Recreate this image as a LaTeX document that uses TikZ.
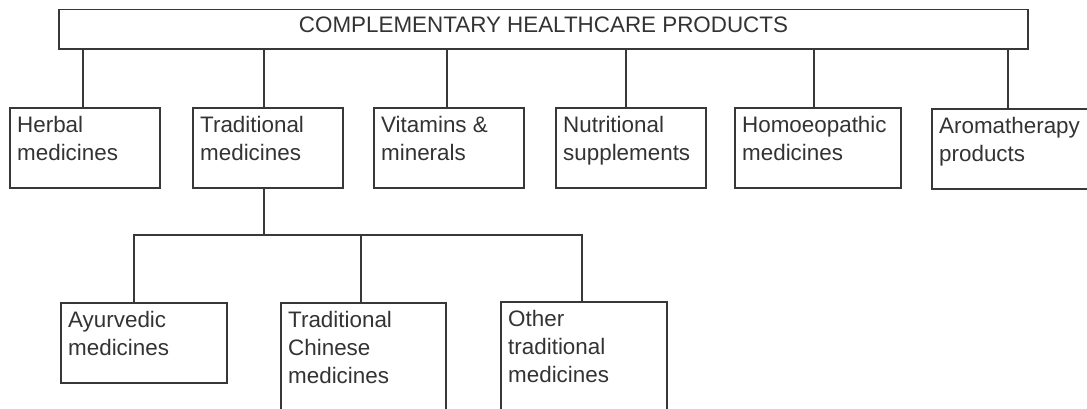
\documentclass[tikz,border=0pt]{standalone}
\usepackage{fontspec}
\setmainfont{Liberation Sans}
\begin{document}
\begin{tikzpicture}[x=1pt,y=-1pt,
  frame/.style={draw=black!78, line width=1.3pt, rectangle, inner sep=0pt, outer sep=0pt,
    anchor=north west, minimum height=80pt},
  lbl/.style={anchor=north west, inner sep=0pt, align=left, text=black!80,
    font=\fontsize{22.4}{28}\selectfont},
  link/.style={draw=black!78, line width=1.3pt}
]
\useasboundingbox (0,0) rectangle (1087,408);
\clip (0,0) rectangle (1087,408);

% root
\node[frame, minimum width=969pt, minimum height=39.5pt] (root) at (59,9.5) {};
\node[lbl, anchor=north] (root-t) at ([yshift=-7.5pt]root.north) {COMPLEMENTARY HEALTHCARE PRODUCTS};

% first level
\node[frame, minimum width=150pt] (herbal) at (10,108) {};
\node[frame, minimum width=150pt] (trad)   at (193,108) {};
\node[frame, minimum width=150pt] (vit)    at (374,108) {};
\node[frame, minimum width=150pt] (nutri)  at (556,108) {};
\node[frame, minimum width=166pt] (homoeo) at (735,108) {};
\node[frame, minimum width=170pt] (aroma)  at (932,109) {};

\node[lbl] (herbal-t) at ([xshift=7pt,yshift=-8pt]herbal.north west) {Herbal\\medicines};
\node[lbl] (trad-t)   at ([xshift=7pt,yshift=-8pt]trad.north west) {Traditional\\medicines};
\node[lbl] (vit-t)    at ([xshift=7pt,yshift=-8pt]vit.north west) {Vitamins \&\\minerals};
\node[lbl] (nutri-t)  at ([xshift=7pt,yshift=-8pt]nutri.north west) {Nutritional\\supplements};
\node[lbl] (homoeo-t) at ([xshift=7pt,yshift=-8pt]homoeo.north west) {Homoeopathic\\medicines};
\node[lbl] (aroma-t)  at ([xshift=7pt,yshift=-8pt]aroma.north west) {Aromatherapy\\products};

% second level
\node[frame, minimum width=166pt] (ayur)    at (61,303) {};
\node[frame, minimum width=165pt, minimum height=130pt] (chinese) at (281,303) {};
\node[frame, minimum width=166pt, minimum height=130pt] (other)   at (501,302) {};

\node[lbl] (ayur-t)    at ([xshift=7pt,yshift=-8pt]ayur.north west) {Ayurvedic\\medicines};
\node[lbl] (chinese-t) at ([xshift=7pt,yshift=-8pt]chinese.north west) {Traditional\\Chinese\\medicines};
\node[lbl] (other-t)   at ([xshift=7pt,yshift=-8pt]other.north west) {Other\\traditional\\medicines};

% root to first level
\draw[link] ([xshift=-2pt]herbal.north) -- ([xshift=-2pt]herbal.north |- root.south);
\draw[link] ([xshift=-4pt]trad.north)   -- ([xshift=-4pt]trad.north |- root.south);
\draw[link] ([xshift=-2pt]vit.north)    -- ([xshift=-2pt]vit.north |- root.south);
\draw[link] ([xshift=-5pt]nutri.north)  -- ([xshift=-5pt]nutri.north |- root.south);
\draw[link] ([xshift=-4pt]homoeo.north) -- ([xshift=-4pt]homoeo.north |- root.south);
\draw[link] ([xshift=-9pt]aroma.north)  -- ([xshift=-9pt]aroma.north |- root.south);

% traditional medicines to second level
\coordinate (bar) at (0,235);
\draw[link] ([xshift=-4pt]trad.south) -- ([xshift=-4pt]trad.south |- bar);
\draw[link] ([xshift=-10pt]ayur.north) |- ([xshift=-2pt]other.north |- bar) -- ([xshift=-2pt]other.north);
\draw[link] ([xshift=-2.5pt]chinese.north) -- ([xshift=-2.5pt]chinese.north |- bar);
\end{tikzpicture}
\end{document}
